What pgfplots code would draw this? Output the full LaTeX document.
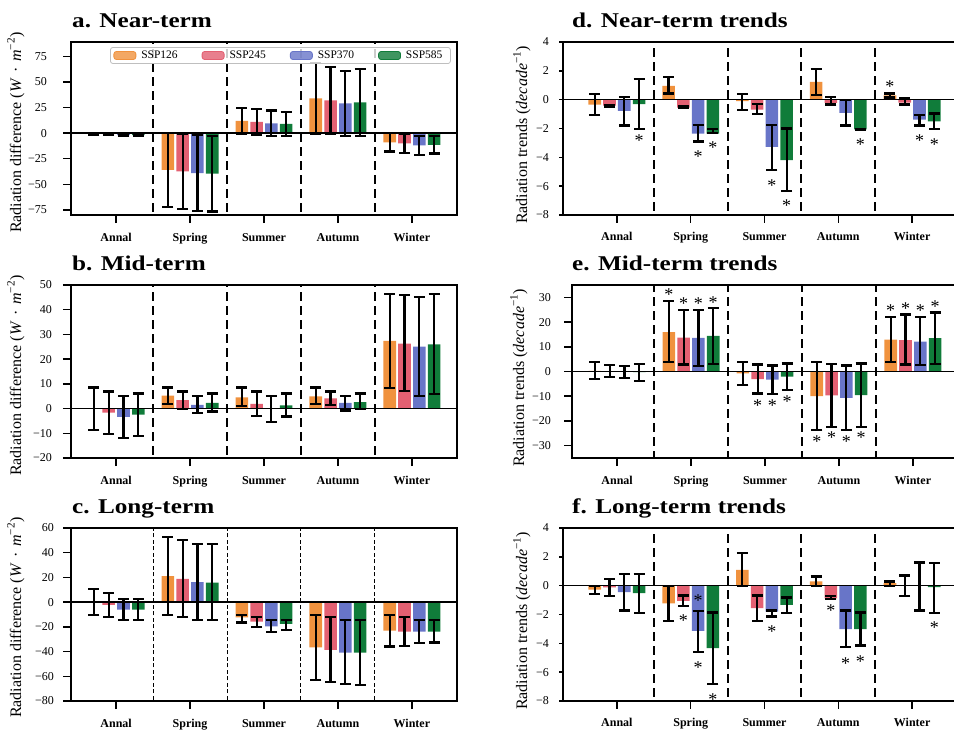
\documentclass[border=0pt]{standalone}
\usepackage{pgfplots}
\pgfplotsset{compat=1.18}
\usepackage{pgfplotstable}
\usepackage{graphicx}
\usepackage{fontspec}
\setmainfont{Liberation Serif}

\definecolor{cO}{HTML}{F0923E}
\definecolor{cR}{HTML}{E36072}
\definecolor{cB}{HTML}{6875C8}
\definecolor{cG}{HTML}{107C3A}

\newcommand\tickf{\fontsize{12}{14}\selectfont}
\newcommand\legf{\fontsize{11.5}{13}\selectfont}
\newcommand\catf{\fontsize{12}{14}\selectfont\bfseries}
\newcommand\labf{\fontsize{16}{18}\selectfont}
\newcommand\titf{\fontsize{21}{24}\selectfont\bfseries}
\newcommand\astf{\fontsize{18}{20}\selectfont}

\pgfplotstableread{
g yO loO hiO yR loR hiR yB loB hiB yG loG hiG
0 -0.8 -1.3 -0.3 -0.9 -1.4 -0.4 -1.9 -2.6 -1.2 -1.9 -2.6 -1.2
1 -36 -72.4 0.4 -37.5 -74 -1 -39 -76 -2 -39.5 -76.5 -2.5
2 12 -0.5 24.5 11 -1.5 23.5 9.5 -3 22 9 -3 20.5
3 34 -0.5 68.5 32 -1 64.5 29 -3 61 30 -3 63
4 -9 -18 0 -10 -19.3 -0.7 -12 -21 -3 -11.5 -20 -3
}\tA
\pgfplotstableread{
g yO loO hiO yR loR hiR yB loB hiB yG loG hiG
0 0 -8.8 8.5 -1.6 -10.2 6.9 -3.4 -11.9 5.2 -2.4 -11 6.1
1 5.2 1.8 8.5 3.4 -0.1 6.9 1.5 -1.8 5.2 2.3 -1.2 6.1
2 4.5 0.9 8.5 1.9 -3.1 6.9 0 -5.3 5.2 1.3 -3.2 6.1
3 4.9 1.7 8.5 4.1 1.6 6.9 2.3 -0.8 5.2 2.6 -0.2 6.1
4 27.4 8.3 46.4 26.3 7.0 45.8 25.1 5.2 45.0 26.0 6.0 46.4
}\tB
\pgfplotstableread{
g yO loO hiO yR loR hiR yB loB hiB yG loG hiG
0 0 -10.3 10.8 -2.2 -12.2 7.3 -6 -14.6 2.4 -6 -14.6 2.4
1 21.1 -10.3 52.7 18.9 -12.2 50.3 16.2 -14.6 47.3 15.7 -14.6 46.8
2 -12.4 -16.5 -10.3 -15.7 -20 -12.2 -19.7 -24.3 -14.6 -17.6 -22.4 -14.6
3 -36.5 -63 -10.3 -38.6 -64.6 -12.2 -40.8 -66.2 -14.6 -40.8 -67.3 -14.6
4 -23 -35.9 -10.3 -23.8 -35.4 -12.2 -23.8 -33.2 -14.6 -23.8 -32.7 -14.6
}\tC
\pgfplotstableread{
g yO loO hiO yR loR hiR yB loB hiB yG loG hiG
0 -0.34 -1.08 0.4 -0.42 -0.47 -0.37 -0.78 -1.79 0.19 -0.32 -2.05 1.41
1 0.95 0.42 1.58 -0.55 -0.6 -0.45 -2.35 -2.9 -1.77 -2.35 -2.3 -2.05
2 -0.11 -0.73 0.4 -0.69 -1.0 -0.32 -3.27 -4.89 -1.77 -4.19 -6.34 -2.0
3 1.23 0.3 2.1 -0.22 -0.34 0.19 -0.91 -1.79 -0.02 -2.07 -2.1 -2.04
4 0.3 0.15 0.42 -0.2 -0.34 0.12 -1.38 -1.79 -1.08 -1.5 -2.05 -0.96
}\tD
\pgfplotstableread{
g yO loO hiO yR loR hiR yB loB hiB yG loG hiG
0 0.3 -3.1 3.7 0.2 -2.3 2.7 -0.2 -2.7 2.3 -0.3 -3.7 3.1
1 15.9 3.7 28.4 13.7 2.8 24.8 13.6 2.3 24.9 14.4 3.1 25.7
2 -0.8 -5.3 3.7 -3.1 -8.9 2.8 -3.3 -9.2 2.4 -2.1 -7.6 3.2
3 -10 -23.7 3.7 -9.7 -22.3 3.1 -10.7 -23.7 2.4 -9.6 -22.3 3.2
4 12.9 3.9 22.1 12.7 2.8 23.1 12.1 2.5 22.1 13.5 3.1 23.9
}\tE
\pgfplotstableread{
g yO loO hiO yR loR hiR yB loB hiB yG loG hiG
0 -0.28 -0.59 0 -0.12 -0.7 0.46 -0.45 -1.72 0.78 -0.52 -1.9 0.8
1 -1.23 -2.46 0 -1.05 -1.4 -0.68 -3.14 -4.62 -1.74 -4.34 -6.82 -1.86
2 1.1 0 2.26 -1.56 -2.46 -0.68 -1.8 -2.14 -1.72 -1.33 -1.9 -0.82
3 0.29 0 0.64 -0.88 -0.95 -0.72 -3.02 -4.27 -1.72 -3.02 -4.15 -1.86
4 0.18 0 0.29 0 -0.7 0.71 0 -1.72 1.61 -0.1 -1.9 1.57
}\tF

\pgfplotsset{
  panel/.style={scale only axis, height=173pt, anchor=south west,
    axis line style={line width=1.5pt}, tick style={black, line width=1.5pt},
    tick align=outside, major tick length=8pt,
    xtick={0,1,2,3,4}, xticklabels={Annal,Spring,Summer,Autumn,Winter},
    xtick pos=lower, ytick pos=left,
    xticklabel style={font=\catf, anchor=base, yshift=-18pt},
    yticklabel style={font=\tickf, anchor=east, inner sep=0pt}},
  Lpanel/.style={panel, width=386pt, xmin=-0.61, xmax=4.61},
  Rpanel/.style={panel, width=403pt, xmin=-0.73, xmax=4.73},
  sepT/.style={black, line width=2pt, dash pattern=on 9pt off 5pt},
  sepN/.style={black, line width=1pt, dash pattern=on 4pt off 2.5pt},
}

\newcommand\seps[1]{%
  \addplot[forget plot, #1] coordinates {(0.5,-200) (0.5,200)};
  \addplot[forget plot, #1] coordinates {(1.5,-200) (1.5,200)};
  \addplot[forget plot, #1] coordinates {(2.5,-200) (2.5,200)};
  \addplot[forget plot, #1] coordinates {(3.5,-200) (3.5,200)};}
% bars
\newcommand\barplt[4]{%
  \addplot[forget plot, ybar, bar width=0.17, bar shift=0pt, fill=#2, draw=none]
    table[x expr=\thisrow{g}+(#3), y=y#4]{#1};}
% error bars (separate plot, black, thick, no line, no marks)
\newcommand\errplt[3]{%
  \addplot[forget plot, black, line width=2.2pt, draw=none, mark=none,
    error bars/.cd, y dir=both, y explicit,
    error bar style={draw=black, solid, line width=2.2pt},
    error mark options={rotate=90, draw=black, solid, line width=2.2pt, mark size=5.5pt}]
    table[x expr=\thisrow{g}+(#2), y=y#3,
      y error plus expr=\thisrow{hi#3}-\thisrow{y#3},
      y error minus expr=\thisrow{y#3}-\thisrow{lo#3}]{#1};}
\newcommand\allser[1]{%
  \barplt{#1}{cO}{-0.3}{O}\barplt{#1}{cR}{-0.1}{R}\barplt{#1}{cB}{0.1}{B}\barplt{#1}{cG}{0.3}{G}%
  \errplt{#1}{-0.3}{O}\errplt{#1}{-0.1}{R}\errplt{#1}{0.1}{B}\errplt{#1}{0.3}{G}}
\newcommand\zline{\addplot[forget plot, black, line width=1.6pt] coordinates {(-1,0) (6,0)};}
\newcommand\stars[1]{\addplot[forget plot, black, only marks, mark=text, text mark={*},
    text mark as node=true, text mark style={font=\astf, inner sep=0pt, yshift=-2.5pt}] coordinates {#1};}

\begin{document}
\begin{tikzpicture}[x=1pt,y=1pt]
% ---------- a
\begin{axis}[Lpanel, at={(71pt,-215pt)}, ymin=-80, ymax=89,
  ytick={-75,-50,-25,0,25,50,75}, yticklabels={−75,−50,−25,0,25,50,75},
  yticklabel style={xshift=-16pt},
  legend columns=4,
  legend style={at={(axis description cs:0.984,0.971)}, anchor=north east,
    draw=black!25, line width=0.8pt, rounded corners=2.5pt, fill=white,
    fill opacity=0.8, text opacity=1, draw opacity=1, font=\legf,
    inner xsep=3pt, inner ysep=1.5pt,
    nodes={inner xsep=5pt},
    /tikz/every even column/.append style={column sep=19pt}}]
\seps{sepT}
\allser{\tA}
\zline
\addlegendimage{legend image code/.code={\fill[cO] (0pt,-4pt) rectangle (22pt,4pt);}}
\addlegendentry{SSP126}
\addlegendimage{legend image code/.code={\fill[cR] (0pt,-4pt) rectangle (22pt,4pt);}}
\addlegendentry{SSP245}
\addlegendimage{legend image code/.code={\fill[cB] (0pt,-4pt) rectangle (22pt,4pt);}}
\addlegendentry{SSP370}
\addlegendimage{legend image code/.code={\fill[cG] (0pt,-4pt) rectangle (22pt,4pt);}}
\addlegendentry{SSP585}
\end{axis}
% ---------- b
\begin{axis}[Lpanel, at={(71pt,-458pt)}, ymin=-20, ymax=50,
  ytick={-20,-10,0,10,20,30,40,50}, yticklabels={−20,−10,0,10,20,30,40,50},
  yticklabel style={xshift=-11pt}]
\seps{sepT}
\allser{\tB}
\zline
\end{axis}
% ---------- c
\begin{axis}[Lpanel, at={(71pt,-701pt)}, ymin=-80, ymax=60,
  ytick={-80,-60,-40,-20,0,20,40,60}, yticklabels={−80,−60,−40,−20,0,20,40,60},
  yticklabel style={xshift=-9pt}]
\seps{sepN}
\allser{\tC}
\zline
\end{axis}
% ---------- d
\begin{axis}[Rpanel, at={(563pt,-215pt)}, ymin=-8, ymax=4,
  ytick={-8,-6,-4,-2,0,2,4}, yticklabels={−8,−6,−4,−2,0,2,4},
  ytick style={/pgfplots/major tick length=4pt},
  yticklabel style={xshift=-6pt}]
\seps{sepT}
\allser{\tD}
\zline
\stars{(0.3,-2.65) (1.1,-3.8) (1.3,-3.15) (2.1,-5.76) (2.3,-7.19) (3.3,-2.92) (3.7,1.05) (4.1,-2.65) (4.3,-2.92)}
\end{axis}
% ---------- e
\begin{axis}[Lpanel, at={(572pt,-458pt)}, ymin=-35, ymax=35,
  ytick={-30,-20,-10,0,10,20,30}, yticklabels={−30,−20,−10,0,10,20,30},
  yticklabel style={xshift=-13pt}]
\seps{sepT}
\allser{\tE}
\zline
\stars{(0.7,32) (0.9,28.4) (1.1,28.4) (1.3,29) (1.9,-12.7) (2.1,-12.7) (2.3,-11.1) (2.7,-27.3) (2.9,-25.7) (3.1,-27.3) (3.3,-25.7) (3.7,25.6) (3.9,26.3) (4.1,25.6) (4.3,27.3)}
\end{axis}
% ---------- f
\begin{axis}[Rpanel, at={(563pt,-701pt)}, ymin=-8, ymax=4,
  ytick={-8,-6,-4,-2,0,2,4}, yticklabels={−8,−6,−4,−2,0,2,4},
  ytick style={/pgfplots/major tick length=4pt},
  yticklabel style={xshift=-6pt}]
\seps{sepT}
\allser{\tF}
\zline
\stars{(0.9,-2.25) (1.1,-0.87) (1.1,-5.5) (1.3,-7.7) (2.1,-3.04) (2.9,-1.56) (3.1,-5.22) (3.3,-5.08) (4.3,-2.77)}
\end{axis}
% ---------- titles
\node[anchor=base west, inner sep=0pt] at (72pt,-27pt) {\titf\scalebox{1.2}[1]{a. Near-term}};
\node[anchor=base west, inner sep=0pt] at (72pt,-270pt) {\titf\scalebox{1.2}[1]{b. Mid-term}};
\node[anchor=base west, inner sep=0pt] at (72pt,-513pt) {\titf\scalebox{1.2}[1]{c. Long-term}};
\node[anchor=base west, inner sep=0pt] at (572pt,-27pt) {\titf\scalebox{1.2}[1]{d. Near-term trends}};
\node[anchor=base west, inner sep=0pt] at (572pt,-270pt) {\titf\scalebox{1.2}[1]{e. Mid-term trends}};
\node[anchor=base west, inner sep=0pt] at (572pt,-513pt) {\titf\scalebox{1.2}[1]{f. Long-term trends}};
% ---------- y labels
\newcommand\lablL{Radiation difference (\textit{W}\hspace{0.35em}·\hspace{0.35em}\textit{m}\textsuperscript{−2})}
\newcommand\lablR{Radiation trends (\textit{decade}\textsuperscript{−1})}
\node[rotate=90, anchor=base west, inner sep=0pt, font=\labf] at (21pt,-233pt) {\lablL};
\node[rotate=90, anchor=base west, inner sep=0pt, font=\labf] at (21pt,-476pt) {\lablL};
\node[rotate=90, anchor=base west, inner sep=0pt, font=\labf] at (21pt,-718pt) {\lablL};
\node[rotate=90, anchor=base west, inner sep=0pt, font=\labf] at (527pt,-224pt) {\lablR};
\node[rotate=90, anchor=base west, inner sep=0pt, font=\labf] at (524pt,-467pt) {\lablR};
\node[rotate=90, anchor=base west, inner sep=0pt, font=\labf] at (527pt,-710pt) {\lablR};
\pgfresetboundingbox
\path[use as bounding box] (0pt,0pt) rectangle (954pt,-731pt);
\end{tikzpicture}
\end{document}
